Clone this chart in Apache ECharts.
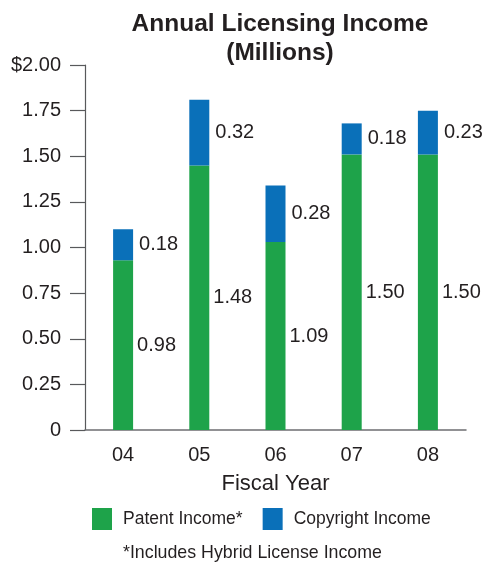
<!DOCTYPE html>
<html>
<head>
<meta charset="utf-8">
<script src="https://cdn.jsdelivr.net/npm/echarts@6/dist/echarts.min.js"></script>
<style>html,body{margin:0;padding:0;background:#fff}#c{width:484px;height:562px}</style>
</head>
<body>
<div id="c"></div>
<script>
// Data
const years = ['04', '05', '06', '07', '08'];
const patentBar = [0.93, 1.45, 1.03, 1.51, 1.51];      // drawn bar heights
const copyrightBar = [0.17, 0.36, 0.31, 0.17, 0.24];   // drawn segment heights
const patentLabels = ['0.98', '1.48', '1.09', '1.50', '1.50'];
const copyrightLabels = ['0.18', '0.32', '0.28', '0.18', '0.23'];
const yTickLabels = ['0', '0.25', '0.50', '0.75', '1.00', '1.25', '1.50', '1.75', '$2.00'];

const FONT = '"Liberation Sans", Arial, Helvetica, sans-serif';
const TXT = '#231f20';
const GREEN = '#1ea34a';
const BLUE = '#0a70b9';

const chart = echarts.init(document.getElementById('c'), null, {renderer: 'canvas'});
chart.setOption({
  animation: false,
  textStyle: {fontFamily: FONT, color: TXT},
  title: {
    text: 'Annual Licensing Income\n(Millions)',
    left: 275, top: 5, textAlign: 'center',
    textStyle: {fontFamily: FONT, fontSize: 24.5, fontWeight: 'bold', lineHeight: 29, color: TXT}
  },
  grid: {left: 85, right: 18, top: 65, bottom: 132},
  legend: {
    left: 92, top: 508, padding: 0,
    itemWidth: 20, itemHeight: 22, itemGap: 20,
    icon: 'rect',
    textStyle: {fontFamily: FONT, fontSize: 17.5, color: TXT, padding: [0, 0, 0, 6]},
    data: ['Patent Income*', 'Copyright Income']
  },
  graphic: [{
    type: 'text', left: 123, top: 544,
    style: {text: '*Includes Hybrid License Income', fontFamily: FONT, fontSize: 17.8, fill: TXT}
  }],
  xAxis: {
    type: 'category', data: years,
    name: 'Fiscal Year', nameLocation: 'middle', nameGap: 43,
    nameTextStyle: {fontFamily: FONT, fontSize: 22, color: TXT},
    axisLine: {lineStyle: {color: '#6d6e71', width: 1.5}},
    axisTick: {show: false},
    axisLabel: {margin: 15, fontFamily: FONT, fontSize: 20, color: TXT}
  },
  yAxis: {
    type: 'value', min: 0, max: 2, interval: 0.25,
    axisLine: {show: true, lineStyle: {color: '#58595b', width: 1.2}},
    axisTick: {show: true, length: 15, lineStyle: {color: '#58595b', width: 1.2}},
    splitLine: {show: false},
    axisLabel: {
      margin: 24, fontFamily: FONT, fontSize: 20, color: TXT,
      formatter: v => yTickLabels[Math.round(v / 0.25)]
    }
  },
  series: [{
    name: 'Patent Income*', type: 'bar', stack: 's', barWidth: 20,
    data: patentBar,
    itemStyle: {color: GREEN},
    label: {show: true, position: 'right', distance: 4, fontFamily: FONT, fontSize: 20, color: TXT,
      formatter: p => patentLabels[p.dataIndex]}
  }, {
    name: 'Copyright Income', type: 'bar', stack: 's', barWidth: 20,
    data: copyrightBar,
    itemStyle: {color: BLUE},
    label: {show: true, position: 'right', distance: 6, fontFamily: FONT, fontSize: 20, color: TXT,
      formatter: p => copyrightLabels[p.dataIndex]}
  }]
});
</script>
</body>
</html>
